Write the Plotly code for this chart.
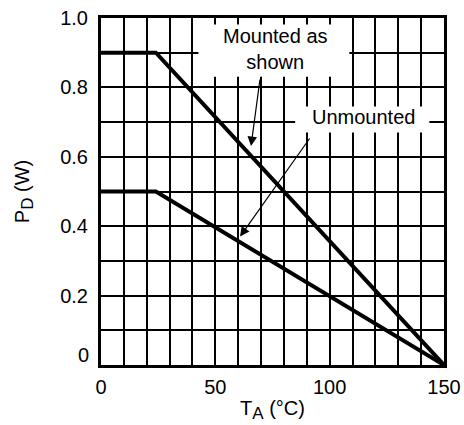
import plotly.graph_objects as go

# Data
mounted_t = [0, 24, 150]
mounted_p = [0.9, 0.9, 0.0]
unmounted_t = [0, 24, 150]
unmounted_p = [0.5, 0.5, 0.0]

x_tick_vals = [0, 50, 100, 150]
x_tick_text = ["0", "50", "100", "150"]
y_tick_vals = [0, 0.2, 0.4, 0.6, 0.8, 1.0]
y_tick_text = ["", "0.2", "0.4", "0.6", "0.8", "1.0"]

FONT = "Liberation Sans, Arial, Helvetica, sans-serif"
FS = 20

fig = go.Figure()
fig.add_trace(go.Scatter(x=mounted_t, y=mounted_p, mode="lines",
                         line=dict(color="black", width=4), showlegend=False,
                         hoverinfo="skip"))
fig.add_trace(go.Scatter(x=unmounted_t, y=unmounted_p, mode="lines",
                         line=dict(color="black", width=4), showlegend=False,
                         hoverinfo="skip"))

# white label boxes
fig.add_shape(type="rect", x0=42.6, x1=108.6, y0=0.831, y1=0.981,
              fillcolor="white", line=dict(width=0), layer="above")
fig.add_shape(type="rect", x0=84.9, x1=143.6, y0=0.670, y1=0.745,
              fillcolor="white", line=dict(width=0), layer="above")

fig.add_annotation(x=76.3, y=0.911, text="Mounted as<br>shown", showarrow=False,
                   font=dict(family=FONT, size=FS, color="black"))
fig.add_annotation(x=114.7, y=0.714, text="Unmounted", showarrow=False,
                   font=dict(family=FONT, size=FS, color="black"))

# arrows
fig.add_annotation(x=65.6, y=0.631, ax=69.6, ay=0.827, axref="x", ayref="y",
                   xref="x", yref="y", text="", showarrow=True,
                   arrowhead=2, arrowsize=1.6, arrowwidth=1.2, arrowcolor="black")
fig.add_annotation(x=60.8, y=0.370, ax=91.7, ay=0.657, axref="x", ayref="y",
                   xref="x", yref="y", text="", showarrow=True,
                   arrowhead=2, arrowsize=1.6, arrowwidth=1.2, arrowcolor="black")

# shifted "0" y tick label
fig.add_annotation(x=0, y=0, xref="paper", yref="y", text="0", showarrow=False,
                   xanchor="right", xshift=-10, yshift=10,
                   font=dict(family=FONT, size=FS, color="black"))

fig.update_layout(
    width=464, height=425,
    margin=dict(l=101, r=20, t=18, b=60),
    paper_bgcolor="white", plot_bgcolor="white",
    font=dict(family=FONT, size=FS, color="black"),
    xaxis=dict(range=[0, 150], tickvals=x_tick_vals, ticktext=x_tick_text,
               showgrid=True, gridcolor="black", gridwidth=1.5,
               minor=dict(dtick=10, tick0=0, showgrid=True, gridcolor="black", gridwidth=1.5),
               showline=True, linecolor="black", linewidth=3, mirror=True,
               ticks="", zeroline=False, ticklabelstandoff=2, automargin=False,
               title=dict(text="T<sub><span style='font-size:17px'>A</span></sub> (°C)", standoff=4,
                          font=dict(family=FONT, size=FS))),
    yaxis=dict(range=[0, 1.0], tickvals=y_tick_vals, ticktext=y_tick_text,
               showgrid=True, gridcolor="black", gridwidth=1.5,
               minor=dict(dtick=0.1, tick0=0, showgrid=True, gridcolor="black", gridwidth=1.5),
               showline=True, linecolor="black", linewidth=3, mirror=True,
               ticks="", zeroline=False, ticklabelstandoff=6, automargin=False,
               title=dict(text="P<sub><span style='font-size:17px'>D</span></sub> (W)", standoff=26,
                          font=dict(family=FONT, size=FS))),
)

fig.write_html("out.html", config={"displayModeBar": False},
               post_script="document.body.style.margin='0px';")
